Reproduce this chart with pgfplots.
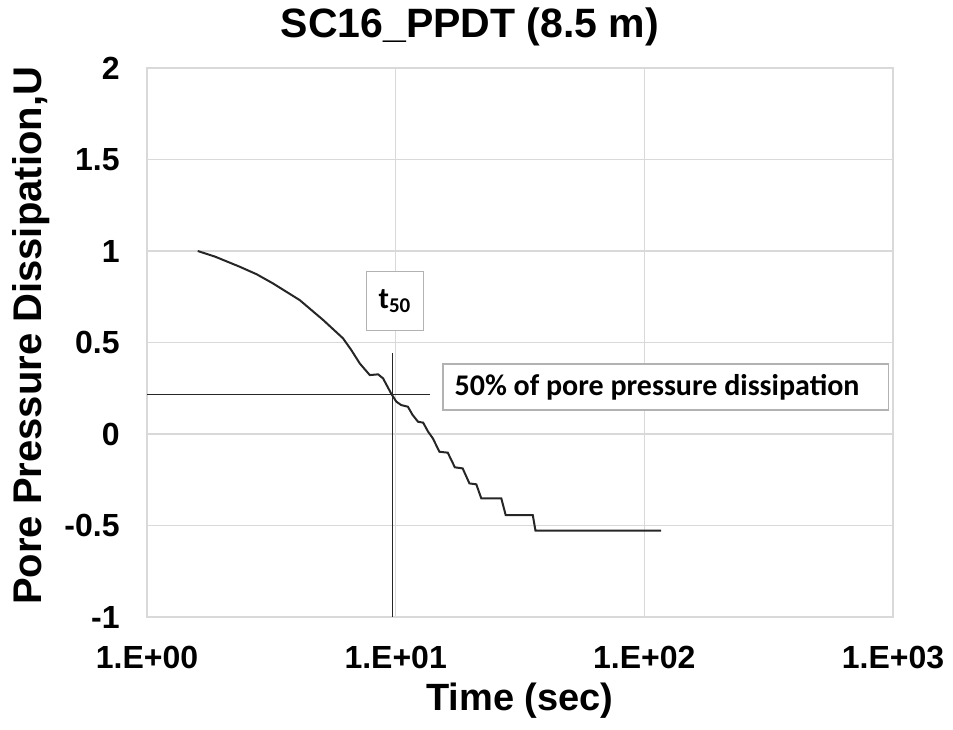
\documentclass[border=0pt]{standalone}
\usepackage{pgfplots}
\pgfplotsset{compat=1.18}
\usepackage{fontspec}
\setmainfont{Liberation Sans}
\newfontfamily\calib{Carlito}
\definecolor{gridc}{HTML}{D9D9D9}
\definecolor{linec}{HTML}{262626}
\begin{document}
\begin{tikzpicture}
\begin{axis}[
  scale only axis,
  width=373pt, height=274.5pt,
  xmode=log, log basis x=10,
  xmin=1, xmax=1000, ymin=-1, ymax=2,
  xtick={1,10,100,1000},
  xticklabels={1.E+00,1.E+01,1.E+02,1.E+03},
  ytick={-1,-0.5,0,0.5,1,1.5,2},
  yticklabels={-1,-0.5,0,0.5,1,1.5,2},
  minor xtick={},
  major tick length=0pt,
  grid=major,
  grid style={gridc, line width=0.6pt},
  axis line style={gridc, line width=0.6pt},
  tick label style={font=\fontsize{16}{18}\selectfont\bfseries},
  xticklabel style={anchor=base, yshift=-25.5pt},
  yticklabel style={anchor=east, inner sep=0pt, xshift=-13.5pt},
  title={SC16\_PPDT (8.5 m)},
  title style={font=\fontsize{20.5}{22}\selectfont\bfseries, at={(axis description cs:0.433,1)}, anchor=base, yshift=9.5pt, inner sep=0pt},
  xlabel={Time (sec)},
  xlabel style={font=\fontsize{19}{22}\selectfont\bfseries, at={(axis description cs:0.5,0)}, anchor=base, yshift=-46.5pt, inner sep=0pt},
  ylabel={Pore Pressure Dissipation,U},
  ylabel style={font=\fontsize{20}{22}\selectfont\bfseries, at={(axis description cs:-0.155,0.512)}, anchor=center, inner sep=0pt},
  clip=false,
]
\addplot[linec, line width=1pt] coordinates {
(1.60,1.000) (1.88,0.969) (2.36,0.914) (2.76,0.873) (3.21,0.823) (4.11,0.732)
(5.11,0.623) (6.14,0.523) (6.63,0.459) (7.17,0.386) (7.87,0.322) (8.50,0.326)
(8.90,0.304) (9.61,0.219) (10.06,0.177) (10.53,0.158) (11.2,0.149) (11.7,0.104)
(12.3,0.067) (12.9,0.062) (13.5,0.013) (14.1,-0.023) (15.0,-0.097) (16.2,-0.102)
(17.3,-0.182) (18.6,-0.188) (19.8,-0.270) (21.1,-0.275) (22.1,-0.352) (26.6,-0.352)
(27.7,-0.443) (35.6,-0.443) (36.5,-0.528) (116.7,-0.528)
};
\addplot[linec, line width=0.8pt] coordinates {(1,0.215) (13.8,0.215)};
\addplot[linec, line width=0.8pt] coordinates {(9.70,0.441) (9.70,-1.0)};
\node[draw=gray!60, fill=white, line width=0.6pt, minimum width=28.3pt, minimum height=29.5pt, inner sep=0pt, font=\calib\fontsize{15}{18}\selectfont\bfseries] at (axis cs:9.94,0.727) {t\textsubscript{50}};
\draw[gray!60, fill=white, line width=0.6pt] (axis cs:15.5,0.131) rectangle (axis cs:962,0.382);
\node[anchor=west, inner sep=0pt, font=\calib\fontsize{15}{18}\selectfont\bfseries] at (axis cs:17.2,0.257) {50\% of pore pressure dissipation};
\end{axis}
\pgfresetboundingbox
\path ([shift={(-73.5pt,-56pt)}]current axis.south west) rectangle ++(476.5pt,364.5pt);
\end{tikzpicture}
\end{document}
